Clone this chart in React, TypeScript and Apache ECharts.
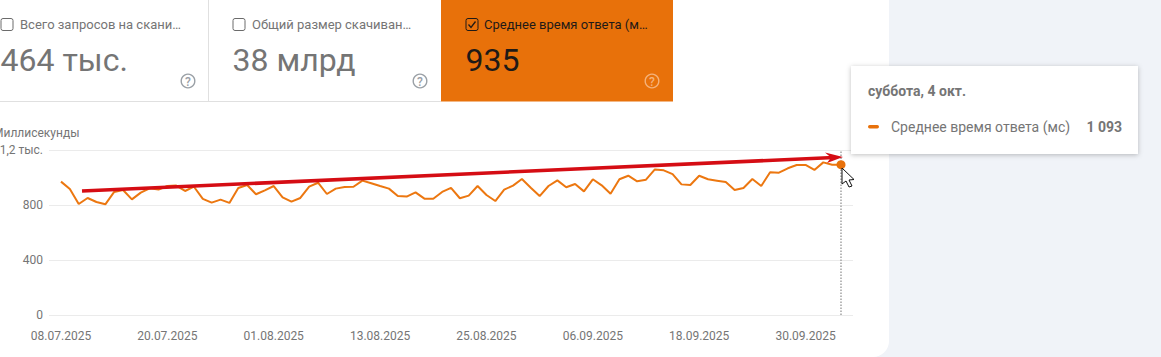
import React, { useEffect, useRef } from "react";
import * as echarts from "echarts";

const responseTimes = [
  970, 916, 807, 851, 822, 805, 895, 909, 841, 890, 921, 912, 938, 941, 902, 933,
  844, 817, 839, 815, 924, 945, 878, 907, 938, 856, 824, 851, 933, 962, 880, 919,
  931, 933, 977, 958, 938, 919, 865, 861, 892, 846, 846, 895, 924, 849, 868, 938,
  873, 829, 912, 941, 989, 926, 865, 938, 979, 929, 953, 899, 987, 943, 882, 987,
  1013, 972, 984, 1059, 1052, 1025, 950, 945, 1013, 987, 977, 967, 909, 924, 989,
  938, 1038, 1035, 1067, 1091, 1091, 1055, 1110, 1093, 1093,
];
const startDate = Date.UTC(2025, 6, 8);
const categories = responseTimes.map((_, i) => {
  const d = new Date(startDate + i * 86400000);
  const p = (n: number) => String(n).padStart(2, "0");
  return `${p(d.getUTCDate())}.${p(d.getUTCMonth() + 1)}.${d.getUTCFullYear()}`;
});
const yTickLabels: Record<number, string> = { 0: "0", 400: "400", 800: "800", 1200: "1,2 тыс." };
const cards = [
  { x: 1, label: "Всего запросов на скани…", value: "464 тыс.", help: 188 },
  { x: 233, label: "Общий размер скачиван…", value: "38 млрд", help: 420 },
  { x: 466, label: "Среднее время ответа (м…", value: "935", help: 652, active: true },
];
const axisTitle = "Миллисекунды";
const tooltipDate = "суббота, 4 окт.";
const tooltipSeries = "Среднее время ответа (мс)";
const tooltipValue = "1 093";

const ORANGE = "#e8710a";
const GREY = "#757575";
const FONT = "Roboto";

function cardGraphics() {
  const out: any[] = [];
  for (const c of cards) {
    const fg = c.active ? "#1f1a17" : GREY;
    out.push({
      type: "rect", z: 1,
      shape: { x: c.x, y: 18.5, width: 12, height: 12, r: 2 },
      style: { fill: "transparent", stroke: c.active ? "#1f1a17" : "#6b6b6b", lineWidth: 1 },
    });
    if (c.active) {
      out.push({
        type: "polyline", z: 2,
        shape: { points: [[c.x + 2.5, 24.5], [c.x + 5, 27.5], [c.x + 9.5, 21.5]] },
        style: { fill: "none", stroke: "#1f1a17", lineWidth: 1.3 },
      });
    }
    out.push({
      type: "text", z: 2, x: c.x + (c.active ? 18 : 19), y: 24,
      style: { text: c.label, font: `13px ${FONT}`, fill: c.active ? "#1f1a17" : GREY, textVerticalAlign: "middle" },
    });
    out.push({
      type: "text", z: 2, x: c.x - 0.5, y: 60,
      style: { text: c.value, font: `32px ${FONT}`, fill: fg, textVerticalAlign: "middle" },
    });
    const hc = c.active ? "#f5b27a" : "#9aa0a6";
    out.push({
      type: "circle", z: 2, shape: { cx: c.help, cy: 81, r: 6.8 },
      style: { fill: "transparent", stroke: hc, lineWidth: 1.4 },
    });
    out.push({
      type: "text", z: 3, x: c.help, y: 81.5,
      style: { text: "?", font: `500 12px ${FONT}`, fill: hc, textAlign: "center", textVerticalAlign: "middle" },
    });
  }
  return out;
}

export default function App() {
  const ref = useRef<HTMLDivElement>(null);
  useEffect(() => {
    document.body.style.margin = "0";
    const chart = echarts.init(ref.current!, undefined, { renderer: "svg" });
    const lastCat = categories[categories.length - 1];
    const lastVal = responseTimes[responseTimes.length - 1];
    chart.setOption({
      animation: false,
      backgroundColor: "#f0f3f8",
      grid: [
        { left: 49, width: 804, top: 150, bottom: 42, outerBoundsMode: "none" },
        { left: 61, width: 780, top: 150, bottom: 42, outerBoundsMode: "none" },
      ],
      xAxis: [
        { type: "value", gridIndex: 0, show: false, min: 0, max: 1 },
        {
          type: "category", gridIndex: 1, data: categories, boundaryGap: false,
          axisLine: { show: false }, axisTick: { show: false },
          axisLabel: { interval: 11, color: GREY, fontFamily: FONT, fontSize: 12, margin: 15 },
        },
      ],
      yAxis: [
        {
          type: "value", gridIndex: 0, min: 0, max: 1200, interval: 400,
          axisLine: { show: false }, axisTick: { show: false },
          splitLine: { lineStyle: { color: "#ebebeb", width: 1 } },
          axisLabel: {
            color: GREY, fontFamily: FONT, fontSize: 12, margin: 6,
            formatter: (v: number) => yTickLabels[v] ?? "",
          },
        },
        { type: "value", gridIndex: 1, min: 0, max: 1200, interval: 400, show: false },
      ],
      series: [
        {
          type: "line", xAxisIndex: 1, yAxisIndex: 1, data: responseTimes,
          showSymbol: false, silent: true,
          lineStyle: { color: "#ec7710", width: 2 },
          itemStyle: { color: ORANGE },
          markLine: {
            silent: true, symbol: "none", label: { show: false },
            lineStyle: { color: "#a8a8a8", type: [1.5, 1.5], width: 1.6 },
            data: [{ xAxis: lastCat }],
          },
          markPoint: {
            silent: true, symbol: "circle", symbolSize: 9,
            itemStyle: { color: ORANGE }, label: { show: false },
            data: [{ coord: [lastCat, lastVal] }],
          },
        },
      ],
      graphic: [
        { type: "rect", z: -2, shape: { x: -20, y: -20, width: 909, height: 377, r: 16 }, style: { fill: "#ffffff" } },
        { type: "rect", z: -1, shape: { x: 441, y: 0, width: 232, height: 101.5 }, style: { fill: ORANGE } },
        { type: "line", z: -1, shape: { x1: 0, y1: 101.5, x2: 441, y2: 101.5 }, style: { stroke: "#e0e0e0", lineWidth: 1 } },
        { type: "line", z: -1, shape: { x1: 208.5, y1: 0, x2: 208.5, y2: 101 }, style: { stroke: "#e0e0e0", lineWidth: 1 } },
        ...cardGraphics(),
        {
          type: "text", z: 2, x: -7, y: 132.5,
          style: { text: axisTitle, font: `12px ${FONT}`, fill: GREY, textVerticalAlign: "middle" },
        },
        // red annotation arrow
        { type: "line", z: 100, shape: { x1: 82, y1: 191, x2: 834, y2: 157.5 }, style: { stroke: "#d50d14", lineWidth: 3.6 } },
        { type: "polygon", z: 100, shape: { points: [[825, 152.5], [843, 157], [827, 163], [831, 157.5]] }, style: { fill: "#d50d14" } },
        // mouse cursor
        {
          type: "polygon", z: 101,
          shape: { points: [[842, 168], [842, 184], [846, 181], [849, 187], [852, 186], [849, 180], [854, 179.5]] },
          style: { fill: "#ffffff", stroke: "#111111", lineWidth: 1 },
        },
        // tooltip
        {
          type: "rect", z: 110, shape: { x: 851, y: 66, width: 287, height: 88 },
          style: { fill: "#ffffff", shadowBlur: 5, shadowColor: "rgba(0,0,0,0.25)", shadowOffsetY: 1 },
        },
        {
          type: "text", z: 111, x: 868, y: 91,
          style: { text: tooltipDate, font: `bold 14px ${FONT}`, fill: GREY, textVerticalAlign: "middle" },
        },
        {
          type: "rect", z: 111, shape: { x: 868, y: 125, width: 11, height: 3.5, r: 1.7 },
          style: { fill: ORANGE },
        },
        {
          type: "text", z: 111, x: 891, y: 127,
          style: { text: tooltipSeries, font: `14px ${FONT}`, fill: GREY, textVerticalAlign: "middle" },
        },
        {
          type: "text", z: 111, x: 1122, y: 127,
          style: { text: tooltipValue, font: `bold 14px ${FONT}`, fill: GREY, textAlign: "right", textVerticalAlign: "middle" },
        },
      ],
    });
    return () => chart.dispose();
  }, []);
  return <div ref={ref} style={{ position: "absolute", left: 0, top: 0, width: 1161, height: 357 }} />;
}
